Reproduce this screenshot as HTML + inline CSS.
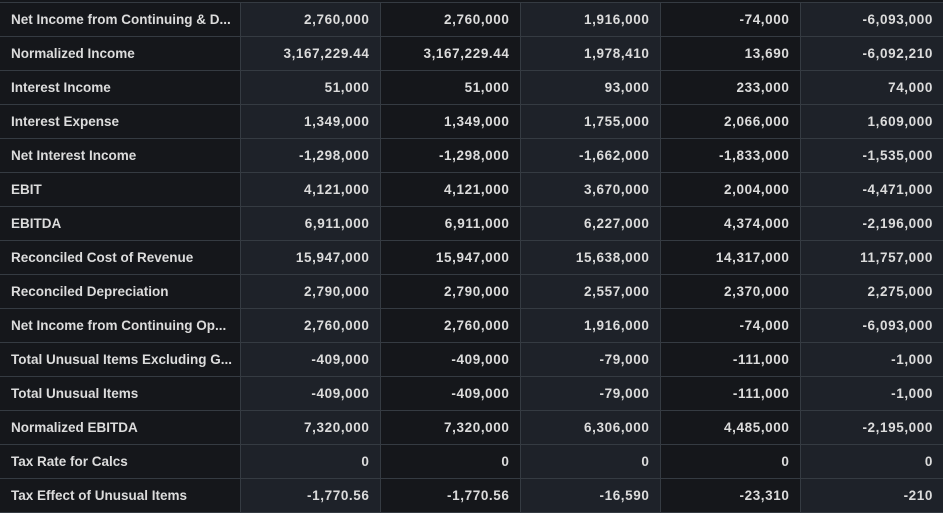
<!DOCTYPE html>
<html><head><style>
html,body{margin:0;padding:0;background:#15171b;width:943px;height:513px;overflow:hidden}
table{position:absolute;top:2px;left:0;width:943px;border-collapse:collapse;font-family:"Liberation Sans",sans-serif;font-size:13.5px;line-height:16px;letter-spacing:0.6px;font-weight:bold;color:#dcdcdc;table-layout:fixed}
td{height:33px;border:1px solid #353b42;padding:0 10px;white-space:nowrap;overflow:hidden;text-align:right;vertical-align:middle}
td:first-child{text-align:left;padding-left:11px;border-left:none;background:#15171b;letter-spacing:0}
td:nth-child(2),td:nth-child(4),td:nth-child(6){background:#1e2229}
td:nth-child(3),td:nth-child(5){background:#15171b}
td:last-child{border-right:none}
</style></head><body>
<table>
<colgroup><col style="width:240px"><col style="width:140px"><col style="width:140px"><col style="width:140px"><col style="width:140px"><col style="width:143px"></colgroup>
<tr><td>Net Income from Continuing &amp; D...</td><td>2,760,000</td><td>2,760,000</td><td>1,916,000</td><td>-74,000</td><td>-6,093,000</td></tr>
<tr><td>Normalized Income</td><td>3,167,229.44</td><td>3,167,229.44</td><td>1,978,410</td><td>13,690</td><td>-6,092,210</td></tr>
<tr><td>Interest Income</td><td>51,000</td><td>51,000</td><td>93,000</td><td>233,000</td><td>74,000</td></tr>
<tr><td>Interest Expense</td><td>1,349,000</td><td>1,349,000</td><td>1,755,000</td><td>2,066,000</td><td>1,609,000</td></tr>
<tr><td>Net Interest Income</td><td>-1,298,000</td><td>-1,298,000</td><td>-1,662,000</td><td>-1,833,000</td><td>-1,535,000</td></tr>
<tr><td>EBIT</td><td>4,121,000</td><td>4,121,000</td><td>3,670,000</td><td>2,004,000</td><td>-4,471,000</td></tr>
<tr><td>EBITDA</td><td>6,911,000</td><td>6,911,000</td><td>6,227,000</td><td>4,374,000</td><td>-2,196,000</td></tr>
<tr><td>Reconciled Cost of Revenue</td><td>15,947,000</td><td>15,947,000</td><td>15,638,000</td><td>14,317,000</td><td>11,757,000</td></tr>
<tr><td>Reconciled Depreciation</td><td>2,790,000</td><td>2,790,000</td><td>2,557,000</td><td>2,370,000</td><td>2,275,000</td></tr>
<tr><td>Net Income from Continuing Op...</td><td>2,760,000</td><td>2,760,000</td><td>1,916,000</td><td>-74,000</td><td>-6,093,000</td></tr>
<tr><td>Total Unusual Items Excluding G...</td><td>-409,000</td><td>-409,000</td><td>-79,000</td><td>-111,000</td><td>-1,000</td></tr>
<tr><td>Total Unusual Items</td><td>-409,000</td><td>-409,000</td><td>-79,000</td><td>-111,000</td><td>-1,000</td></tr>
<tr><td>Normalized EBITDA</td><td>7,320,000</td><td>7,320,000</td><td>6,306,000</td><td>4,485,000</td><td>-2,195,000</td></tr>
<tr><td>Tax Rate for Calcs</td><td>0</td><td>0</td><td>0</td><td>0</td><td>0</td></tr>
<tr><td>Tax Effect of Unusual Items</td><td>-1,770.56</td><td>-1,770.56</td><td>-16,590</td><td>-23,310</td><td>-210</td></tr>
</table>
</body></html>
